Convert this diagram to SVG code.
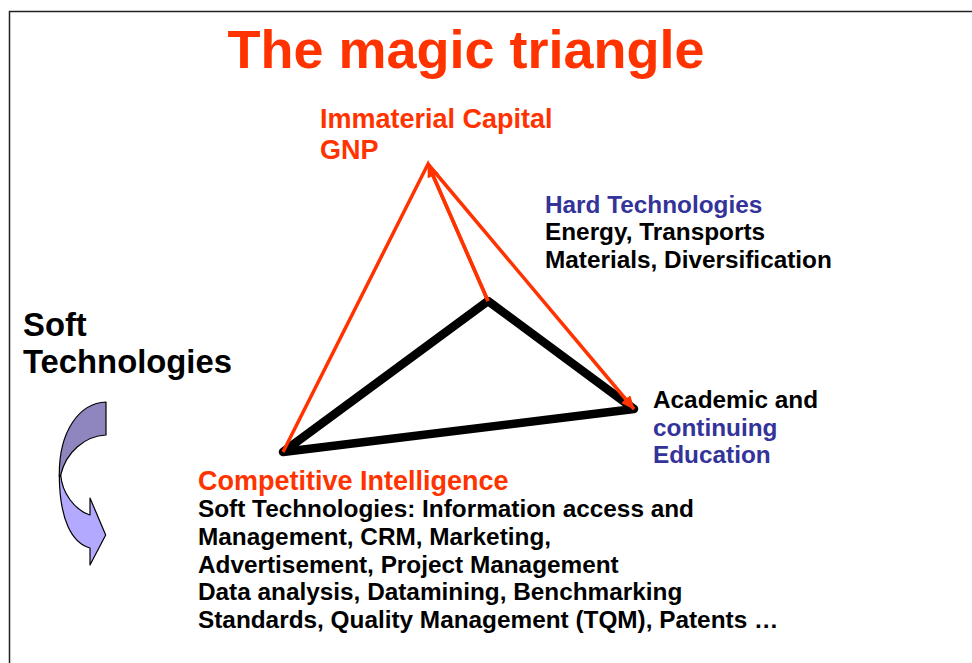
<svg xmlns="http://www.w3.org/2000/svg" width="972" height="663" viewBox="0 0 972 663">
<style>
text{font-family:"Liberation Sans",Arial,sans-serif;font-weight:700;font-size:24.35px;fill:#000}
.o{fill:#ff3300}.b{fill:#333399}
.red{stroke:#ff3300;stroke-width:3.5;fill:none}
.blk{stroke:#000;stroke-width:8.5;fill:none;stroke-linecap:round;stroke-linejoin:round}
.ar{stroke:#000;stroke-width:1.2;stroke-linejoin:round}
</style>
<defs><marker id="ah" markerWidth="14" markerHeight="12" refX="13" refY="6" orient="auto" markerUnits="userSpaceOnUse" viewBox="0 0 14 12"><path d="M0 0L14 6L0 12Z" fill="#ff3300"/></marker></defs>
<rect width="972" height="663" fill="#fff"/>
<path d="M9.5 663V11.5H972" stroke="#222" stroke-width="1.5" fill="none"/>
<g id="title"><text x="466" y="68" text-anchor="middle" class="o" style="font-size:54px">The magic triangle</text></g>
<g id="connectors">
<path class="blk" d="M283 452L488 301L634 409Z"/>
<path class="red" d="M283 452L428 164L488 301"/>
<path class="red" d="M488 301L428 164" marker-end="url(#ah)"/>
<path class="red" d="M428 164L634 409" marker-end="url(#ah)"/>
</g>
<g id="node-capital"><text x="320" y="128" class="o" style="font-size:27px">Immaterial Capital</text><text x="320" y="159" class="o" style="font-size:27px">GNP</text></g>
<g id="node-hard"><text x="545" y="213" class="b">Hard Technologies</text><text x="545" y="240">Energy, Transports</text><text x="545" y="268">Materials, Diversification</text></g>
<g id="node-soft"><text x="23" y="336" style="font-size:32.8px">Soft</text><text x="23" y="373" style="font-size:32.8px">Technologies</text></g>
<g id="node-academic"><text x="653" y="408">Academic and</text><text x="653" y="436" class="b">continuing</text><text x="653" y="463" class="b">Education</text></g>
<g id="node-intelligence"><text x="198" y="490" class="o" style="font-size:27px">Competitive Intelligence</text>
<text x="198" y="517">Soft Technologies: Information access and</text>
<text x="198" y="545">Management, CRM, Marketing,</text>
<text x="198" y="573">Advertisement, Project Management</text>
<text x="198" y="600">Data analysis, Datamining, Benchmarking</text>
<text x="198" y="628">Standards, Quality Management (TQM), Patents …</text></g>
<g id="node-arrow">
<path class="ar" fill="#b3aaff" d="M60.7 475C62 492 74 510 90 515V498L105.7 535L90 565V548C72 543 59.5 520 59.3 475Z"/>
<path class="ar" fill="#8f86c0" d="M106 402V435C85 436 66 452 60.7 475C59.8 478 59.3 478 59.3 475C59 430 80 403 106 402Z"/>
</g>
</svg>
